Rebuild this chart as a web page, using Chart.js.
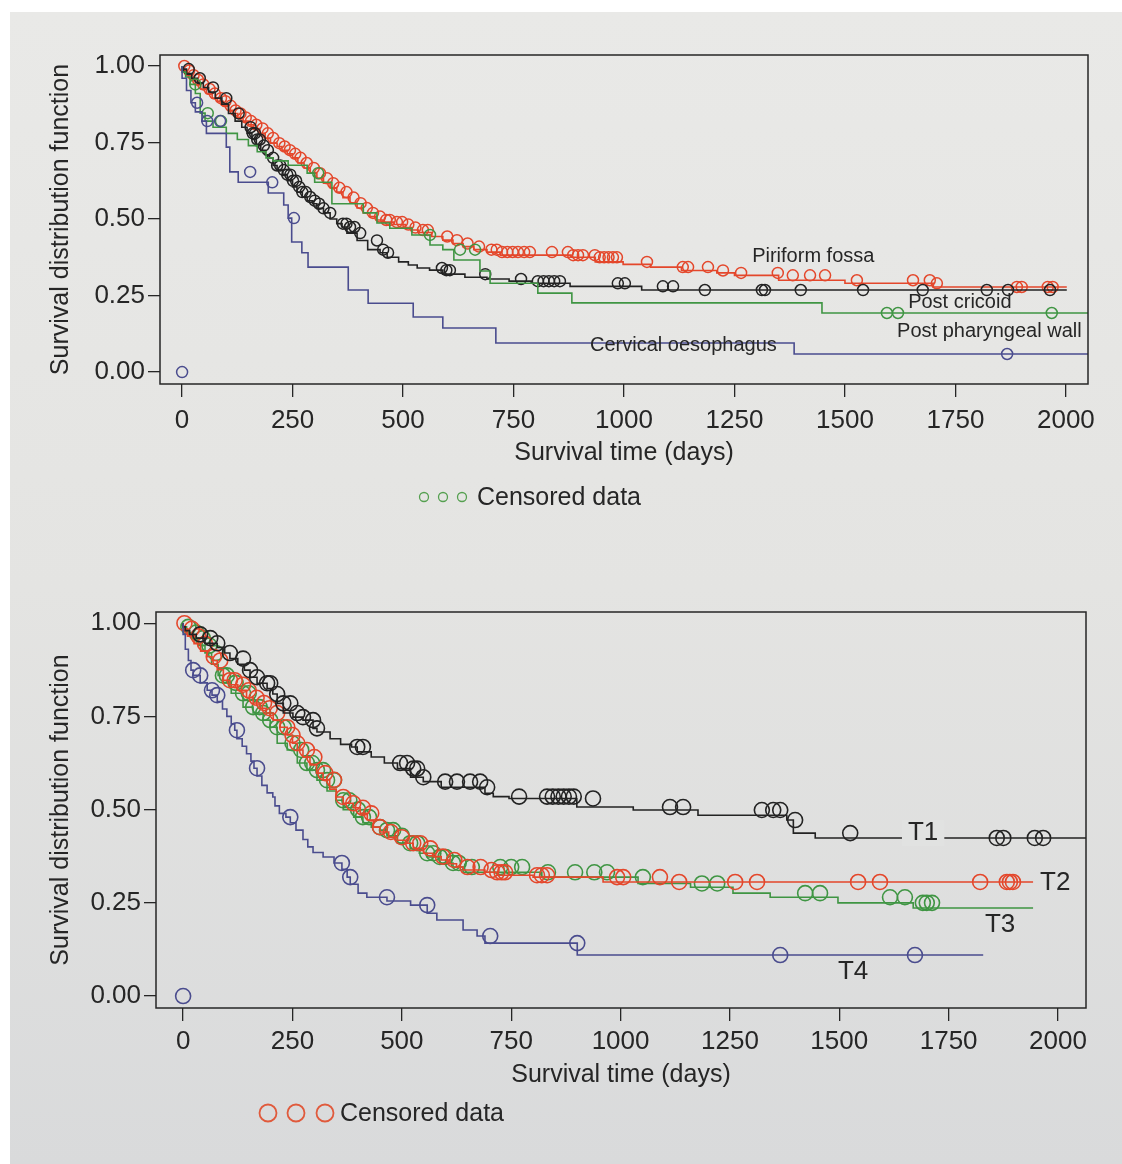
<!DOCTYPE html>
<html>
<head>
<meta charset="utf-8">
<script src="https://cdn.jsdelivr.net/npm/chart.js@4.4.1/dist/chart.umd.min.js"></script>
<style>
  html, body { margin: 0; padding: 0; background: #ffffff; }
  body { width: 1122px; height: 1164px; position: relative; overflow: hidden; }
  #page {
    position: absolute; left: 10px; top: 12px; width: 1112px; height: 1152px;
    background: linear-gradient(180deg, #e9e9e7 0%, #e4e4e2 50%, #d9dadb 100%);
  }
  canvas { position: absolute; left: 0; }
  #siteChart { top: 0; }
  #stageChart { top: 560px; }
</style>
</head>
<body>
<div id="page"></div>
<canvas id="siteChart" width="1122" height="540"></canvas>
<canvas id="stageChart" width="1122" height="604"></canvas>
<script>
// axis ticks
const xTicks = [0, 250, 500, 750, 1000, 1250, 1500, 1750, 2000];
const yTicks = [0, 0.25, 0.5, 0.75, 1.0];

// --- by tumour site: [day, survival after the drop] and censoring days ---
const piriformSteps = [
  [0,1.0],[12,0.985],[20,0.97],[30,0.955],[42,0.94],[55,0.925],[68,0.91],[80,0.895],[93,0.885],
  [105,0.87],[115,0.855],[126,0.845],[138,0.832],[150,0.82],[162,0.808],[176,0.796],[188,0.78],
  [200,0.765],[215,0.748],[226,0.737],[238,0.725],[250,0.713],[262,0.7],[276,0.683],[290,0.667],
  [305,0.65],[320,0.633],[335,0.617],[350,0.602],[364,0.588],[380,0.57],[396,0.552],[410,0.536],
  [425,0.52],[440,0.508],[455,0.497],[480,0.49],[505,0.482],[520,0.472],[535,0.464],[565,0.456],
  [590,0.443],[613,0.431],[636,0.42],[660,0.41],[690,0.4],[720,0.392],[880,0.382],[935,0.375],
  [998,0.36],[1060,0.352],[1130,0.343],[1210,0.332],[1250,0.324],[1350,0.316],[1500,0.3],
  [1700,0.29],[1767,0.278],[2002,0.278]
];
const piriformCensored = [
  5,16,26,36,48,62,74,88,98,110,121,132,144,156,168,182,194,206,220,232,244,256,268,282,298,
  312,328,342,356,372,388,404,418,432,448,462,470,486,498,512,528,545,556,600,622,646,672,700,
  712,724,736,748,760,774,787,837,873,885,896,907,934,945,955,965,975,984,1052,1133,1145,1190,
  1224,1265,1348,1382,1421,1455,1527,1654,1692,1708,1889,1900,1959,1970
];

const cricoidSteps = [
  [0,1.0],[10,0.99],[22,0.975],[35,0.96],[48,0.945],[60,0.93],[75,0.915],[90,0.895],[105,0.875],
  [120,0.845],[135,0.82],[147,0.8],[158,0.78],[168,0.76],[178,0.74],[188,0.725],[198,0.71],
  [206,0.7],[215,0.675],[228,0.66],[238,0.645],[250,0.625],[260,0.605],[272,0.588],[283,0.572],
  [295,0.56],[305,0.55],[320,0.535],[335,0.52],[350,0.5],[362,0.485],[373,0.474],[396,0.454],
  [420,0.43],[448,0.4],[464,0.39],[490,0.375],[512,0.36],[532,0.35],[560,0.34],[590,0.333],
  [640,0.32],[690,0.31],[740,0.304],[790,0.297],[878,0.29],[1040,0.28],[1150,0.268],[2002,0.268]
];
const cricoidCensored = [
  15,40,70,100,128,155,160,165,170,176,185,194,206,215,222,230,238,245,251,258,265,272,280,290,
  300,310,320,335,364,372,380,390,403,441,455,466,588,598,606,686,767,805,818,830,842,855,986,
  1002,1088,1111,1183,1312,1319,1400,1541,1676,1821,1869,1964
];

const pharyngealSteps = [
  [0,1.0],[8,0.98],[18,0.964],[30,0.94],[41,0.91],[52,0.846],[70,0.82],[100,0.8],[125,0.78],
  [150,0.76],[170,0.74],[190,0.72],[206,0.7],[240,0.69],[283,0.676],[300,0.65],[339,0.62],
  [410,0.55],[441,0.52],[470,0.487],[520,0.47],[561,0.448],[590,0.415],[615,0.4],[674,0.366],
  [697,0.33],[805,0.29],[882,0.258],[1448,0.226],[1545,0.193],[2050,0.193]
];
const pharyngealCensored = [30, 58, 88, 308, 561, 629, 663, 1595, 1620, 1968];

const oesophagusSteps = [
  [0,1.0],[10,0.96],[20,0.92],[30,0.88],[45,0.85],[55,0.82],[100,0.78],[108,0.735],[127,0.654],
  [195,0.62],[230,0.585],[240,0.546],[248,0.503],[271,0.425],[285,0.39],[376,0.343],[421,0.268],
  [523,0.225],[590,0.18],[710,0.144],[1385,0.095],[1398,0.059],[2050,0.059]
];
const oesophagusCensored = [34, 57, 86, 154, 204, 253, 1867];
const oesophagusStray = [[0, 0]];

// --- by T stage ---
const t1Steps = [
  [0,1.0],[5,0.99],[15,0.98],[30,0.97],[50,0.96],[78,0.946],[95,0.935],[107,0.92],[125,0.905],
  [140,0.89],[153,0.874],[169,0.855],[192,0.839],[205,0.825],[215,0.81],[229,0.785],[251,0.759],
  [274,0.748],[297,0.74],[306,0.718],[336,0.708],[360,0.69],[385,0.675],[398,0.668],[430,0.655],
  [460,0.641],[490,0.625],[520,0.61],[549,0.587],[590,0.575],[690,0.56],[709,0.544],[745,0.535],
  [900,0.53],[1029,0.507],[1177,0.499],[1380,0.485],[1395,0.472],[1445,0.437],[1545,0.424],[2064,0.424]
];
const t1Censored = [
  39,62,78,107,137,153,169,192,199,215,229,245,261,274,297,306,398,411,496,512,526,535,549,599,
  626,656,679,695,768,832,845,858,870,882,893,937,1113,1143,1323,1349,1365,1399,1525,1860,1875,
  1947,1966
];

const t2Steps = [
  [0,1.0],[10,0.985],[25,0.965],[40,0.945],[55,0.925],[66,0.91],[78,0.9],[92,0.875],[107,0.847],
  [125,0.835],[145,0.82],[160,0.8],[176,0.786],[190,0.772],[206,0.759],[222,0.74],[238,0.721],
  [250,0.7],[261,0.678],[274,0.66],[290,0.641],[305,0.62],[320,0.598],[335,0.58],[350,0.555],
  [366,0.534],[389,0.517],[405,0.505],[421,0.49],[435,0.472],[450,0.453],[470,0.44],[489,0.426],
  [508,0.418],[526,0.41],[550,0.396],[571,0.383],[590,0.374],[610,0.365],[625,0.355],[640,0.346],
  [690,0.338],[718,0.332],[800,0.324],[960,0.319],[1110,0.306],[1943,0.306]
];
const t2Censored = [
  3,20,35,50,70,85,107,118,137,150,168,185,198,215,238,250,261,283,300,325,345,366,389,411,430,
  450,475,500,526,542,565,594,620,650,680,705,718,728,736,809,820,832,992,1006,1090,1134,1262,
  1312,1543,1593,1822,1883,1890,1897
];

const t3Steps = [
  [0,1.0],[8,0.99],[20,0.975],[35,0.96],[50,0.94],[65,0.92],[80,0.89],[91,0.86],[110,0.84],
  [137,0.812],[160,0.775],[183,0.759],[199,0.74],[215,0.721],[238,0.678],[261,0.66],[283,0.625],
  [306,0.606],[329,0.579],[350,0.55],[366,0.525],[390,0.5],[411,0.48],[430,0.465],[450,0.453],
  [466,0.445],[490,0.43],[519,0.41],[540,0.395],[558,0.383],[587,0.373],[617,0.357],[640,0.346],
  [820,0.332],[1040,0.319],[1160,0.302],[1257,0.292],[1342,0.276],[1497,0.265],[1669,0.25],
  [1769,0.236],[1943,0.236]
];
const t3Censored = [
  12,30,45,60,75,91,100,120,137,150,160,175,183,199,215,230,250,270,283,295,306,320,329,345,366,
  380,400,411,425,450,466,480,500,519,535,558,572,587,600,617,630,660,725,750,775,834,896,940,
  969,1051,1186,1221,1422,1456,1616,1650,1691,1700,1712
];

const t4Steps = [
  [0,1.0],[5,0.97],[12,0.93],[18,0.9],[23,0.874],[39,0.86],[55,0.84],[66,0.82],[78,0.807],
  [90,0.79],[100,0.77],[110,0.75],[118,0.73],[123,0.713],[135,0.69],[145,0.67],[155,0.65],
  [162,0.63],[169,0.611],[180,0.59],[192,0.565],[205,0.545],[210,0.534],[220,0.51],[235,0.49],
  [245,0.48],[258,0.465],[274,0.445],[285,0.42],[297,0.4],[320,0.385],[345,0.373],[363,0.357],
  [375,0.34],[382,0.319],[400,0.3],[420,0.276],[466,0.265],[520,0.255],[558,0.244],[580,0.222],
  [640,0.204],[672,0.177],[690,0.161],[901,0.142],[1118,0.11],[1829,0.11]
];
const t4Censored = [23, 39, 66, 78, 123, 169, 245, 363, 382, 466, 558, 702, 901, 1365, 1673];
const t4Stray = [[0, 0]];

const ink = "#262626";
const family = "'Liberation Sans', Arial, Helvetica, sans-serif";
const RED = "#e4472b", GREEN = "#3f9543", BLACK = "#232323", BLUE = "#4a4c8e";

// survival value in force on a given day
function survivalAt(steps, t) {
  let s = steps[0][1];
  for (const [day, value] of steps) {
    if (day <= t) s = value; else break;
  }
  return s;
}

function groupDatasets(g) {
  const marks = g.censored.map(t => ({ x: t, y: survivalAt(g.steps, t) }))
    .concat((g.stray || []).map(([t, s]) => ({ x: t, y: s })));
  return [
    {
      data: g.steps.map(([t, s]) => ({ x: t, y: s })),
      showLine: true, stepped: "after", fill: false,
      borderColor: g.color, borderWidth: 1.6, pointRadius: 0, pointHoverRadius: 0
    },
    {
      data: marks,
      showLine: false, pointStyle: "circle",
      pointRadius: g.radius, pointHoverRadius: g.radius,
      borderColor: g.color, pointBorderWidth: g.ring,
      backgroundColor: "rgba(0,0,0,0)"
    }
  ];
}

// box round the plotting area
const framePlugin = {
  id: "frame",
  afterDraw(chart) {
    const { ctx, chartArea: a } = chart;
    ctx.save();
    ctx.strokeStyle = ink;
    ctx.lineWidth = 1.5;
    ctx.strokeRect(a.left, a.top, a.right - a.left, a.bottom - a.top);
    ctx.restore();
  }
};

// group names written next to their curves
const curveLabelsPlugin = {
  id: "curveLabels",
  afterDatasetsDraw(chart, args, opts) {
    const { ctx, scales } = chart;
    ctx.save();
    ctx.textBaseline = "middle";
    ctx.textAlign = "left";
    for (const item of opts.items || []) {
      ctx.font = `${item.size}px ${family}`;
      const px = scales.x.getPixelForValue(item.t);
      const py = scales.y.getPixelForValue(item.s);
      if (item.knockout) {
        const w = ctx.measureText(item.text).width;
        ctx.fillStyle = "#e1e2e1";
        ctx.fillRect(px - 6, py - item.size / 2, w + 12, item.size);
      }
      ctx.fillStyle = ink;
      ctx.fillText(item.text, px, py);
    }
    ctx.restore();
  }
};

// "o o o Censored data" key under the axis title
const censorKeyPlugin = {
  id: "censorKey",
  afterDraw(chart, args, o) {
    const { ctx } = chart;
    ctx.save();
    ctx.strokeStyle = o.color;
    ctx.lineWidth = o.ring;
    o.xs.forEach(x => {
      ctx.beginPath();
      ctx.arc(x, o.y, o.r, 0, Math.PI * 2);
      ctx.stroke();
    });
    ctx.fillStyle = ink;
    ctx.font = `25px ${family}`;
    ctx.textBaseline = "middle";
    ctx.textAlign = "left";
    ctx.fillText("Censored data", o.textX, o.y + 1);
    ctx.restore();
  }
};

function buildScales(cfg) {
  return {
    x: {
      type: "linear", min: cfg.xMin, max: cfg.xMax,
      afterBuildTicks: s => { s.ticks = xTicks.map(v => ({ value: v })); },
      afterFit: s => { s.height = cfg.xHeight; },
      grid: { drawOnChartArea: false, drawTicks: true, tickLength: 13, color: ink, lineWidth: 1.3 },
      border: { display: false },
      ticks: {
        color: ink, font: { family, size: 26 }, padding: cfg.xTickPad,
        autoSkip: false, maxRotation: 0, callback: v => String(v)
      },
      title: {
        display: true, text: "Survival time (days)", color: ink,
        font: { family, size: 25 }, padding: { top: 0, bottom: cfg.xTitlePad }
      }
    },
    y: {
      type: "linear", min: cfg.yMin, max: cfg.yMax,
      afterBuildTicks: s => { s.ticks = yTicks.map(v => ({ value: v })); },
      afterFit: s => { s.width = cfg.yWidth; },
      grid: { drawOnChartArea: false, drawTicks: true, tickLength: 12, color: ink, lineWidth: 1.3 },
      border: { display: false },
      ticks: {
        color: ink, font: { family, size: 26 }, padding: 3,
        autoSkip: false, callback: v => v.toFixed(2)
      },
      title: {
        display: true, text: "Survival distribution function", color: ink,
        font: { family, size: 25 }, padding: { top: 46, bottom: 0 }
      }
    }
  };
}

function makeChart(id, groups, cfg, labels, key) {
  return new Chart(document.getElementById(id), {
    type: "scatter",
    data: { datasets: groups.flatMap(groupDatasets) },
    options: {
      responsive: false,
      animation: false,
      devicePixelRatio: 1,
      layout: { padding: cfg.padding },
      scales: buildScales(cfg),
      plugins: {
        legend: { display: false },
        tooltip: { enabled: false },
        curveLabels: { items: labels },
        censorKey: key
      }
    },
    plugins: [framePlugin, curveLabelsPlugin, censorKeyPlugin]
  });
}

// survival by tumour site
makeChart("siteChart",
  [
    { steps: oesophagusSteps, censored: oesophagusCensored, stray: oesophagusStray, color: BLUE, radius: 5.5, ring: 1.5 },
    { steps: pharyngealSteps, censored: pharyngealCensored, color: GREEN, radius: 5.5, ring: 1.5 },
    { steps: cricoidSteps, censored: cricoidCensored, color: BLACK, radius: 5.5, ring: 1.5 },
    { steps: piriformSteps, censored: piriformCensored, color: RED, radius: 5.5, ring: 1.5 }
  ],
  {
    xMin: -50, xMax: 2050, yMin: -0.039, yMax: 1.036,
    padding: { left: 0, top: 55, right: 34, bottom: 0 },
    yWidth: 160, xHeight: 156, xTickPad: 8, xTitlePad: 72
  },
  [
    { text: "Piriform fossa", t: 1290, s: 0.379, size: 20 },
    { text: "Post cricoid", t: 1643, s: 0.226, size: 20 },
    { text: "Post pharyngeal wall", t: 1618, s: 0.134, size: 20 },
    { text: "Cervical oesophagus", t: 923, s: 0.088, size: 20 }
  ],
  { xs: [424, 443, 462], y: 497, r: 4.5, ring: 1.3, color: "#55a050", textX: 477 }
);

// survival by T stage
makeChart("stageChart",
  [
    { steps: t4Steps, censored: t4Censored, stray: t4Stray, color: BLUE, radius: 7.5, ring: 1.6 },
    { steps: t1Steps, censored: t1Censored, color: BLACK, radius: 7.5, ring: 1.6 },
    { steps: t2Steps, censored: t2Censored, color: RED, radius: 7.5, ring: 1.6 },
    { steps: t3Steps, censored: t3Censored, color: GREEN, radius: 7.5, ring: 1.6 }
  ],
  {
    xMin: -62, xMax: 2064, yMin: -0.032, yMax: 1.03,
    padding: { left: 0, top: 52, right: 36, bottom: 0 },
    yWidth: 156, xHeight: 156, xTickPad: 5, xTitlePad: 74
  },
  [
    { text: "T1", t: 1657, s: 0.437, size: 26, knockout: true },
    { text: "T2", t: 1959, s: 0.303, size: 26 },
    { text: "T3", t: 1833, s: 0.19, size: 26 },
    { text: "T4", t: 1497, s: 0.064, size: 26 }
  ],
  { xs: [268, 296, 325], y: 553, r: 8.5, ring: 1.8, color: "#e05a3c", textX: 340 }
);
</script>
</body>
</html>
